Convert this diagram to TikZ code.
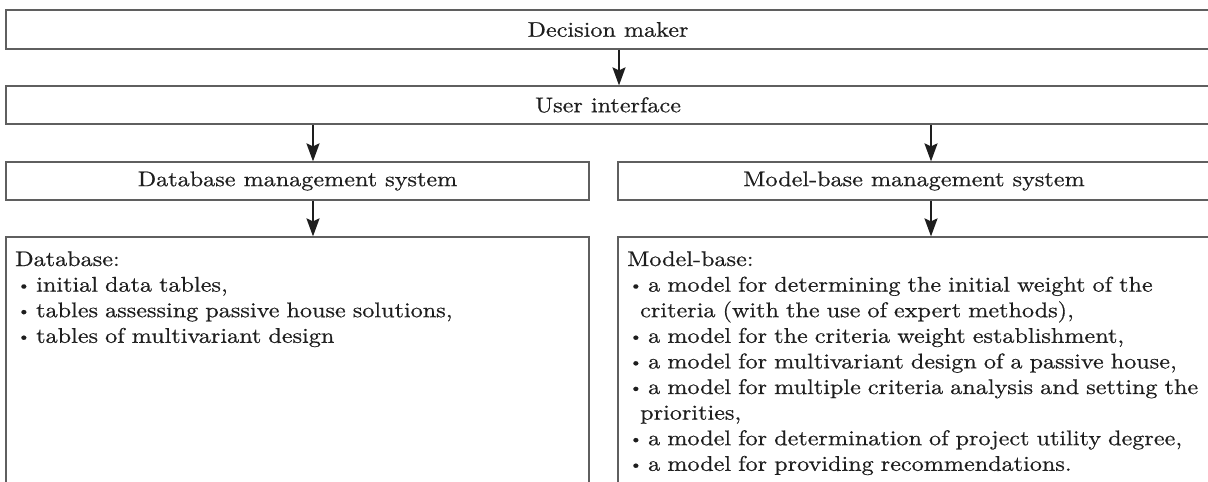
\documentclass[tikz,border=0pt]{standalone}
\usepackage{fontspec}
\setmainfont{lmroman10-regular.otf}[FakeStretch=1.14,FakeBold=0.6]
\usetikzlibrary{arrows.meta}
\definecolor{boxline}{RGB}{95,95,95}
\definecolor{arrowc}{RGB}{30,30,30}
\definecolor{txt}{RGB}{30,30,30}
\newcommand\bl{\makebox[21pt][l]{\hspace{2pt}\raisebox{1.6pt}{\fontsize{15pt}{15pt}\selectfont\textbullet}}}
\newcommand\cont{\hspace*{13pt}}
\tikzset{
  box/.style={draw=boxline, line width=1.2pt, rectangle, inner sep=0pt, text=txt,
    font=\fontsize{21.2pt}{25.6pt}\selectfont},
  flow/.style={draw=arrowc, line width=2.2pt, -{Stealth[length=18pt,width=13pt,inset=3pt]}},
  listtext/.style={inner sep=0pt, text=txt, align=left, text width=600pt,
    font=\fontsize{21.2pt}{25.6pt}\selectfont, anchor=base west},
}
\begin{document}
\begin{tikzpicture}[x=1pt,y=-1pt]
\useasboundingbox (0,0) rectangle (1208,482);
\clip (0,0) rectangle (1208,482);
\node[box, minimum width=1204pt, minimum height=39pt] (dm) at (608,29.5) {Decision maker};
\node[box, minimum width=1204pt, minimum height=38pt] (ui) at (608,105) {User interface};
\node[box, minimum width=583pt, minimum height=38pt] (dbms) at (297.5,181) {Database management system};
\node[box, minimum width=592pt, minimum height=38pt] (mbms) at (914,181) {Model-base management system};
\node[box, minimum width=583pt, minimum height=258pt] (db) at (297.5,366) {};
\node[box, minimum width=592pt, minimum height=258pt] (mb) at (914,366) {};
\node[listtext] (dbtext) at (15,266) {Database:\\
\bl initial data tables,\\
\bl tables assessing passive house solutions,\\
\bl tables of multivariant design};
\node[listtext] (mbtext) at (627,266) {Model-base:\\
\bl a model for determining the initial weight of the\\
\cont criteria (with the use of expert methods),\\
\bl a model for the criteria weight establishment,\\
\bl a model for multivariant design of a passive house,\\
\bl a model for multiple criteria analysis and setting the\\
\cont priorities,\\
\bl a model for determination of project utility degree,\\
\bl a model for providing recommendations.};
\coordinate (a0) at ([xshift=11pt]ui.north);
\coordinate (a1) at ([xshift=15.5pt]dbms.north);
\coordinate (a2) at ([xshift=17pt]mbms.north);
\coordinate (a3) at ([xshift=15.5pt]db.north);
\coordinate (a4) at ([xshift=17pt]mb.north);
\draw[flow] (dm.south -| a0) -- (a0);
\draw[flow] (ui.south -| a1) -- (a1);
\draw[flow] (ui.south -| a2) -- (a2);
\draw[flow] (dbms.south -| a3) -- (a3);
\draw[flow] (mbms.south -| a4) -- (a4);
\end{tikzpicture}
\end{document}
